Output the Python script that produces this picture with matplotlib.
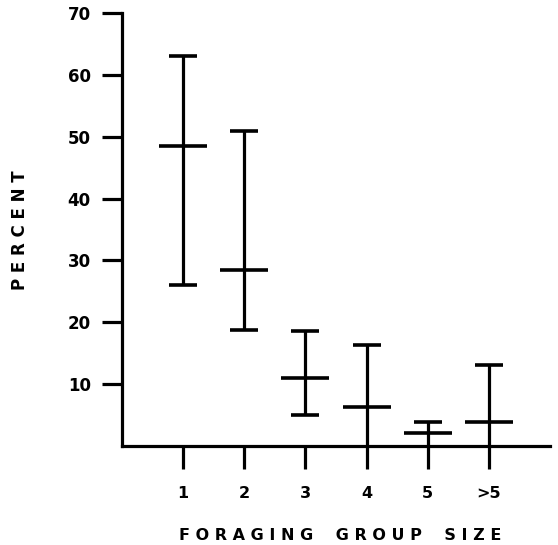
import matplotlib
matplotlib.use("Agg")
import matplotlib.pyplot as plt

# foraging group size categories and percent estimates (mean with range)
groups = ["1", "2", "3", "4", "5", ">5"]
mean_pct = [48.5, 28.4, 11.0, 6.3, 2.1, 3.9]
upper_pct = [63.0, 51.0, 18.6, 16.3, 3.9, 13.1]
lower_pct = [26.0, 18.7, 5.0, 0.0, 0.0, 0.0]
y_ticks = [10, 20, 30, 40, 50, 60, 70]

plt.rcParams['font.family'] = ['DejaVu Sans']

fig = plt.figure(figsize=(5.58, 5.45), dpi=100)
ax = fig.add_axes([122 / 558, 99 / 545, 428 / 558, 433 / 545])

xs = list(range(1, len(groups) + 1))

# range lines
ax.vlines(xs, lower_pct, upper_pct, colors='black', linewidth=2.3, zorder=3)
# top caps everywhere, bottom caps only where the range stays above the axis
ax.plot(xs, upper_pct, linestyle='none', marker='_', markersize=20,
        markeredgewidth=2.6, color='black', clip_on=False, zorder=3)
low_x = [x for x, lo in zip(xs, lower_pct) if lo > 0]
low_y = [lo for lo in lower_pct if lo > 0]
ax.plot(low_x, low_y, linestyle='none', marker='_', markersize=20,
        markeredgewidth=2.6, color='black', zorder=3)
# mean bars
ax.plot(xs, mean_pct, linestyle='none', marker='_', markersize=34,
        markeredgewidth=2.6, color='black', clip_on=False, zorder=3)

ax.set_xlim(0, 7)
ax.set_ylim(0, 70)
ax.set_xticks(xs)
ax.set_xticklabels(groups)
ax.set_yticks(y_ticks)

for side in ['top', 'right']:
    ax.spines[side].set_visible(False)
for side in ['left', 'bottom']:
    ax.spines[side].set_linewidth(2.3)

ax.tick_params(axis='y', direction='out', length=14.5, width=2.3, pad=8,
               labelsize=12)
ax.tick_params(axis='x', direction='out', length=16.5, width=2.3, pad=12,
               labelsize=11.5)
for lbl in ax.get_xticklabels() + ax.get_yticklabels():
    lbl.set_fontweight('bold')

fig.text(20 / 558, 1 - 230 / 545, "P E R C E N T", rotation=90,
         ha='center', va='center', fontsize=12, fontweight='bold')
fig.text(340 / 558, 1 - 535 / 545, "F O R A G I N G    G R O U P    S I Z E",
         ha='center', va='center', fontsize=11.5, fontweight='bold')

fig.savefig("out.png", dpi=100, facecolor='white')
